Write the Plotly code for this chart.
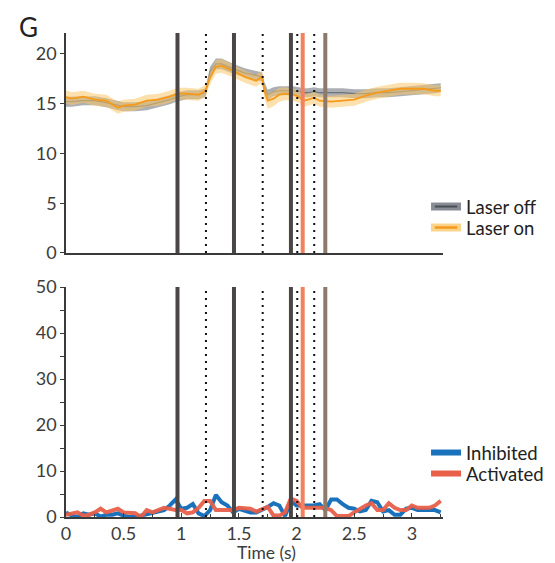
import plotly.graph_objects as go

# ---------------- data ----------------
T_TOP = [0, 0.05, 0.15, 0.25, 0.35, 0.45, 0.5, 0.6, 0.7, 0.8, 0.9, 0.97, 1.05, 1.15, 1.21,
         1.25, 1.3, 1.35, 1.45, 1.55, 1.65, 1.7, 1.72, 1.75, 1.8, 1.85, 1.9, 1.97, 2.02,
         2.06, 2.1, 2.15, 2.2, 2.3, 2.4, 2.5, 2.6, 2.7, 2.8, 2.9, 3.0, 3.1, 3.2, 3.25]
LASER_ON = [15.67, 15.5, 15.7, 15.4, 15.3, 14.6, 14.8, 14.9, 15.3, 15.4, 15.7, 16.0, 16.0, 15.9,
            16.3, 17.6, 18.7, 18.8, 18.3, 17.7, 17.3, 17.7, 16.3, 15.3, 15.5, 15.9, 16.0, 15.9,
            15.7, 15.3, 15.4, 15.6, 15.3, 15.2, 15.3, 15.4, 15.8, 16.1, 16.3, 16.5, 16.5, 16.5,
            16.3, 16.3]
LASER_ON_SEM = [0.65, 0.65, 0.6, 0.6, 0.6, 0.6, 0.6, 0.6, 0.6, 0.6, 0.6, 0.6, 0.6, 0.6,
                0.6, 0.65, 0.7, 0.7, 0.65, 0.6, 0.6, 0.6, 0.7, 0.8, 0.75, 0.7, 0.65, 0.6,
                0.6, 0.6, 0.6, 0.6, 0.6, 0.6, 0.6, 0.6, 0.6, 0.6, 0.6, 0.6, 0.6, 0.55,
                0.55, 0.55]
LASER_OFF = [15.2, 15.2, 15.3, 15.3, 15.1, 14.8, 14.7, 14.7, 14.8, 15.1, 15.4, 15.7, 15.9, 15.9,
             16.1, 18.2, 19.0, 19.0, 18.5, 18.1, 17.8, 17.7, 16.7, 15.9, 16.2, 16.3, 16.3, 16.3,
             16.2, 16.1, 16.1, 16.2, 16.1, 16.1, 16.1, 16.0, 16.0, 16.1, 16.1, 16.2, 16.3, 16.4,
             16.5, 16.6]
LASER_OFF_SEM = [0.5, 0.5, 0.45, 0.45, 0.45, 0.45, 0.45, 0.45, 0.45, 0.45, 0.45, 0.45, 0.45, 0.45,
                 0.45, 0.5, 0.55, 0.55, 0.5, 0.45, 0.45, 0.45, 0.5, 0.5, 0.45, 0.45, 0.45, 0.45,
                 0.45, 0.45, 0.45, 0.45, 0.45, 0.45, 0.45, 0.45, 0.45, 0.45, 0.45, 0.45, 0.45, 0.45,
                 0.45, 0.45]

T_BOT = [0.0, 0.05, 0.1, 0.15, 0.2, 0.25, 0.3, 0.35, 0.4, 0.45, 0.5, 0.55, 0.6, 0.65, 0.7, 0.75,
         0.8, 0.85, 0.9, 0.95, 1.0, 1.05, 1.1, 1.15, 1.2, 1.25, 1.3, 1.35, 1.4, 1.45, 1.5, 1.55,
         1.6, 1.65, 1.7, 1.75, 1.8, 1.85, 1.9, 1.95, 2.0, 2.05, 2.1, 2.15, 2.2, 2.25, 2.3, 2.35,
         2.4, 2.45, 2.5, 2.55, 2.6, 2.65, 2.7, 2.75, 2.8, 2.85, 2.9, 2.95, 3.0, 3.05, 3.1, 3.15,
         3.2, 3.25]
INHIBITED = [1.0, 0.3, 0.0, 0.8, 0.5, 0.8, 0.1, 0.5, 0.5, 0.8, 0.3, 0.0, 0.0, 0.3, 0.8, 1.0,
             1.2, 1.5, 2.5, 3.8, 1.8, 2.0, 2.8, 0.8, 0.2, 1.5, 4.8, 3.2, 2.5, 1.0, 1.8, 1.5,
             1.0, 1.0, 1.5, 2.2, 3.0, 2.5, 0.2, 3.5, 2.5, 2.5, 2.5, 2.5, 2.8, 1.5, 3.8, 3.8,
             2.8, 2.0, 1.8, 1.2, 1.5, 3.5, 3.2, 1.2, 1.5, 0.5, 0.5, 1.8, 2.0, 1.5, 1.5, 1.5,
             1.5, 1.0]
ACTIVATED = [0.5, 0.8, 1.0, 0.3, 0.5, 1.0, 1.8, 1.0, 1.3, 1.8, 1.0, 1.0, 0.8, 0.0, 1.5, 1.0,
             1.5, 2.0, 1.8, 1.5, 1.5, 0.8, 1.0, 2.0, 3.5, 3.5, 1.5, 1.5, 1.5, 1.5, 2.0, 2.0,
             1.8, 1.2, 1.8, 2.2, 0.3, 0.3, 1.0, 4.0, 3.5, 2.0, 2.0, 2.0, 1.8, 2.0, 1.5, 0.2,
             0.2, 0.2, 1.0, 1.8, 2.5, 3.0, 1.5, 1.5, 3.0, 2.0, 1.5, 1.5, 2.5, 2.0, 2.0, 2.0,
             2.5, 3.5]

EVENT_SOLID = [0.967, 1.457, 1.951]
EVENT_DOTTED = [1.214, 1.706, 2.006, 2.153]
EVENT_RED = [2.053]
EVENT_BROWN = [2.249]

X_TICKS = [0, 0.5, 1, 1.5, 2, 2.5, 3]
X_TICK_LABELS = ["0", "0.5", "1", "1.5", "2", "2.5", "3"]

# ---------------- styles ----------------
FONT = "Lato, 'Noto Sans', sans-serif"
TXT = "#3c3c3c"
AX = "#3a3a3a"
GRAY_LINE = "#6e7378"
GRAY_BAND = "rgba(115,120,130,0.6)"
ORANGE_LINE = "#f59a1b"
ORANGE_BAND = "rgba(250,198,105,0.55)"
BLUE = "#1a72bd"
RED = "#e8604a"

fig = go.Figure()


def band(t, m, s, fillcolor, name, yaxis):
    up = [a + b for a, b in zip(m, s)]
    lo = [a - b for a, b in zip(m, s)]
    fig.add_trace(go.Scatter(x=t + t[::-1], y=up + lo[::-1], fill="toself", fillcolor=fillcolor,
                             line=dict(width=0), mode="lines", hoverinfo="skip",
                             showlegend=False, xaxis="x2", yaxis=yaxis, name=name + " band"))


band(T_TOP, LASER_OFF, LASER_OFF_SEM, GRAY_BAND, "Laser off", "y2")
fig.add_trace(go.Scatter(x=T_TOP, y=LASER_OFF, mode="lines", line=dict(color=GRAY_LINE, width=1.2),
                         showlegend=False, xaxis="x2", yaxis="y2"))
band(T_TOP, LASER_ON, LASER_ON_SEM, ORANGE_BAND, "Laser on", "y2")
fig.add_trace(go.Scatter(x=T_TOP, y=LASER_ON, mode="lines", line=dict(color=ORANGE_LINE, width=1.8),
                         showlegend=False, xaxis="x2", yaxis="y2"))

# bottom
fig.add_trace(go.Scatter(x=T_BOT, y=INHIBITED, mode="lines", name="Inhibited",
                         line=dict(color=BLUE, width=4), xaxis="x", yaxis="y", showlegend=False))
fig.add_trace(go.Scatter(x=T_BOT, y=ACTIVATED, mode="lines", name="Activated",
                         line=dict(color=RED, width=4), opacity=0.95,
                         xaxis="x", yaxis="y", showlegend=False))

# legend entries (one legend per entry for exact placement)
fig.add_trace(go.Scatter(x=[None], y=[None], mode="lines+markers", name="Laser off",
                         line=dict(color="rgba(115,120,130,0.85)", width=8),
                         marker=dict(symbol="line-ew", size=16, line=dict(color="#4a4f55", width=2)),
                         xaxis="x2", yaxis="y2", legend="legend"))
fig.add_trace(go.Scatter(x=[None], y=[None], mode="lines+markers", name="Laser on",
                         line=dict(color="rgba(250,205,120,0.85)", width=8),
                         marker=dict(symbol="line-ew", size=16, line=dict(color=ORANGE_LINE, width=2.5)),
                         xaxis="x2", yaxis="y2", legend="legend2"))
fig.add_trace(go.Scatter(x=[None], y=[None], mode="lines", name="Inhibited",
                         line=dict(color=BLUE, width=6), xaxis="x", yaxis="y", legend="legend3"))
fig.add_trace(go.Scatter(x=[None], y=[None], mode="lines", name="Activated",
                         line=dict(color=RED, width=6), xaxis="x", yaxis="y", legend="legend4"))

shapes = []
for yref in ["y domain", "y2 domain"]:
    xref = "x" if yref == "y domain" else "x2"
    for v in EVENT_SOLID:
        shapes.append(dict(type="line", xref=xref, yref=yref, x0=v, x1=v, y0=0, y1=1,
                           line=dict(color="#4a4646", width=4)))
    for v in EVENT_DOTTED:
        shapes.append(dict(type="line", xref=xref, yref=yref, x0=v, x1=v, y0=0, y1=1,
                           line=dict(color="#111111", width=2, dash="2px,5px")))
    for v in EVENT_RED:
        shapes.append(dict(type="line", xref=xref, yref=yref, x0=v, x1=v, y0=0, y1=1,
                           line=dict(color="#f2825f", width=4)))
    for v in EVENT_BROWN:
        shapes.append(dict(type="line", xref=xref, yref=yref, x0=v, x1=v, y0=0, y1=1,
                           line=dict(color="#8e7a6b", width=4)))

XR = [0, 3.27]
PH = 484.0  # plot height in px
OFF = 8     # page body margin offset


def py(ypix):
    return (517 - ypix) / PH


LEG_X = 0.955
leg_common = dict(x=LEG_X, xanchor="left", yanchor="middle", bgcolor="rgba(0,0,0,0)",
                  font=dict(size=18.5, color="#222"), itemwidth=30, borderwidth=0)

fig.update_layout(
    width=555 - OFF, height=563 - OFF,
    margin=dict(l=66 - OFF, r=112, t=33 - OFF, b=46, autoexpand=False),
    paper_bgcolor="white", plot_bgcolor="white",
    font=dict(family=FONT, size=17, color=TXT),
    shapes=shapes,
    xaxis=dict(domain=[0, 1], anchor="y", range=XR, tickvals=X_TICKS, ticktext=X_TICK_LABELS,
               ticks="inside", ticklen=4, tickwidth=1.2, tickcolor=AX, showline=True,
               linecolor=AX, linewidth=1.5, showgrid=False, zeroline=False,
               minor=dict(dtick=0.25, tick0=0, ticks="inside", ticklen=3, tickcolor=AX),
               tickfont=dict(size=18)),
    yaxis=dict(domain=[0, 0.4752], anchor="x", range=[0, 50], tickvals=[0, 10, 20, 30, 40, 50],
               ticks="outside", ticklen=4, tickwidth=1.2, tickcolor=AX, showline=True,
               linecolor=AX, linewidth=1.5, showgrid=False, zeroline=False,
               minor=dict(dtick=5, tick0=0, ticks="outside", ticklen=4, tickcolor=AX),
               tickfont=dict(size=18)),
    xaxis2=dict(domain=[0, 1], anchor="y2", range=XR, showticklabels=False, ticks="",
                showline=True, linecolor=AX, linewidth=1.5, showgrid=False, zeroline=False),
    yaxis2=dict(domain=[0.5455, 1.0], anchor="x2", range=[0, 22.1], tickvals=[0, 5, 10, 15, 20],
                ticks="outside", ticklen=4, tickwidth=1.2, tickcolor=AX, showline=True,
                linecolor=AX, linewidth=1.5, showgrid=False, zeroline=False,
                tickfont=dict(size=18)),
    legend=dict(y=py(207), **leg_common),
    legend2=dict(y=py(228), **leg_common),
    legend3=dict(y=py(453), **leg_common),
    legend4=dict(y=py(474), **leg_common),
    annotations=[
        dict(text="G", xref="paper", yref="paper", x=-0.13, y=py(27), xanchor="left",
             yanchor="middle", showarrow=False, font=dict(size=26, color="#222")),
        dict(text="Time (s)", xref="paper", yref="paper", x=(266 - 66) / 377.0, y=py(552),
             xanchor="center", yanchor="middle", showarrow=False, font=dict(size=17.5, color=TXT)),
    ],
)

fig.write_html("out.html")
